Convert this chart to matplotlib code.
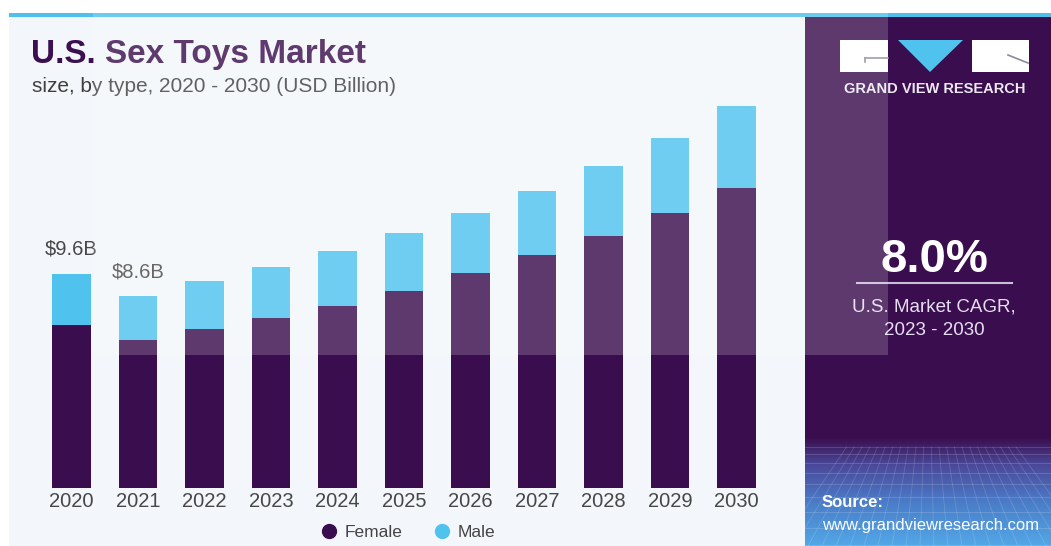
import numpy as np
import matplotlib
matplotlib.use("Agg")
import matplotlib.pyplot as plt
from matplotlib.patches import Rectangle, Polygon
from matplotlib.lines import Line2D

# market size by type, USD billion
years = ["2020", "2021", "2022", "2023", "2024", "2025",
         "2026", "2027", "2028", "2029", "2030"]
female = [7.32, 6.65, 7.13, 7.62, 8.16, 8.83, 9.64, 10.45, 11.32, 12.34, 13.47]
male = [2.28, 1.95, 2.16, 2.32, 2.48, 2.61, 2.72, 2.89, 3.13, 3.36, 3.68]
labelled = [0, 1]  # bars that carry a total label

cagr = "8.0%"
cagr_lines = ["U.S. Market CAGR,", "2023 - 2030"]

plt.rcParams["font.family"] = "Liberation Sans"

W, H = 1051, 546
fig = plt.figure(figsize=(W / 100, H / 100), dpi=100)
fig.patch.set_facecolor("white")

DARK = "#3a0e4e"
BLUE = "#4fc3ee"
GREY = "#474747"

# ---- background layer in pixel coordinates ----
bg = fig.add_axes([0, 0, 1, 1], zorder=-1)
bg.axis("off")

bg.add_patch(Rectangle((9, 17), 796, H - 17, color="#f3f7fb", lw=0))
bg.add_patch(Rectangle((9, 13), W - 9, 4, color="#4ec1ea", lw=0))
bg.add_patch(Rectangle((805, 17), W - 805, 420, color=DARK, lw=0))

# bottom of the side panel: purple fading into blue mesh
stops = np.array([[0x3a, 0x0e, 0x4e], [0x4a, 0x48, 0x98],
                  [0x4a, 0x7c, 0xc8], [0x52, 0xa8, 0xe6]]) / 255
pos = np.array([0.0, 0.25, 0.6, 1.0])
t = np.linspace(0, 1, 120)
grad = np.stack([np.interp(t, pos, stops[:, k]) for k in range(3)], axis=1)
bg.imshow(grad[:, None, :], extent=[805, W, H, 437], aspect="auto",
          interpolation="bilinear", zorder=1)
yy = 447
step = 7
while yy < H:
    bg.plot([805, W], [yy, yy], color="white", lw=0.6, alpha=0.18, zorder=2)
    yy += step
    step += 1.5
for x0 in np.arange(780, 1090, 14):
    bg.plot([928 + (x0 - 928) * 0.55, x0], [447, H], color="white",
            lw=0.6, alpha=0.16, zorder=2)
bg.set_xlim(0, W)
bg.set_ylim(H, 0)

# logo
bg.add_patch(Rectangle((840, 40), 48, 32, color="white", lw=0, zorder=3))
bg.plot([865, 888], [58, 58], color="#8a8a9a", lw=1.2, zorder=4)
bg.plot([865, 865], [58, 62], color="#8a8a9a", lw=1.2, zorder=4)
bg.add_patch(Polygon([(898, 40), (963, 40), (930, 72)], closed=True,
                     color="#4fc3ee", lw=0, zorder=3))
bg.add_patch(Rectangle((972, 40), 57, 32, color="white", lw=0, zorder=3))
bg.plot([1008, 1028], [55, 63], color="#8a8a9a", lw=1.2, zorder=4)
bg.text(934.5, 93, "GRAND VIEW RESEARCH", color="#ece8f2", fontsize=10.5,
        fontweight="bold", ha="center", va="baseline", zorder=4)

# CAGR callout
bg.text(934, 272, cagr, color="white", fontsize=34, fontweight="bold",
        ha="center", va="baseline", zorder=4)
bg.plot([857, 1012], [283, 283], color="#cbbcdb", lw=1.5, zorder=4)
for k, line in enumerate(cagr_lines):
    bg.text(934, 311 + 24 * k, line, color="#e6def0", fontsize=13.5,
            ha="center", va="baseline", zorder=4)

# source
bg.text(822, 507, "Source:", color="white", fontsize=12, fontweight="bold",
        va="baseline", zorder=4)
bg.text(822, 530, "www.grandviewresearch.com", color="white", fontsize=12,
        va="baseline", zorder=4)

# titles
bg.text(31, 63, "U.S. Sex Toys Market", color="#3b0f50", fontsize=24,
        fontweight="bold", va="baseline", zorder=4)
bg.text(32, 92, "size, by type, 2020 - 2030 (USD Billion)", color="#3f3f3f",
        fontsize=15, va="baseline", zorder=4)

# ---- stacked bars ----
px_per_unit = 22.27
x_left, x_right, y_base, y_top = 14, 794, 488, 100
ax = fig.add_axes([x_left / W, (H - y_base) / H,
                   (x_right - x_left) / W, (y_base - y_top) / H])
ax.patch.set_alpha(0)
x = np.arange(len(years))
ax.bar(x, female, width=0.577, color=DARK, lw=0)
ax.bar(x, male, bottom=female, width=0.577, color=BLUE, lw=0)
for i in labelled:
    total = female[i] + male[i]
    ax.annotate(f"${total:.1f}B", (x[i], total), xytext=(0, 11),
                textcoords="offset points", ha="center", va="bottom",
                fontsize=14.5, color=GREY)
ax.set_xlim(-(71.5 - x_left) / 66.5, 10 + (x_right - 736.5) / 66.5)
ax.set_ylim(0, (y_base - y_top) / px_per_unit)
ax.set_xticks(x)
ax.set_xticklabels(years, fontsize=14.5, color=GREY)
ax.set_yticks([])
ax.tick_params(axis="x", length=0, pad=3)
for s in ax.spines.values():
    s.set_visible(False)

handles = [Line2D([], [], ls="none", marker="o", ms=10, color=DARK),
           Line2D([], [], ls="none", marker="o", ms=10, color=BLUE)]
fig.legend(handles, ["Female", "Male"], loc="center", ncol=2,
           bbox_to_anchor=(408 / W, 1 - 532 / H), frameon=False,
           fontsize=12.5, handlelength=1.0, handletextpad=0.4,
           columnspacing=1.8, labelcolor="#444444")

# pale wash over the upper part of the graphic
top = fig.add_axes([0, 0, 1, 1], zorder=10)
top.set_xlim(0, W)
top.set_ylim(H, 0)
top.axis("off")
top.patch.set_alpha(0)
top.add_patch(Rectangle((93, 0), 888 - 93, 355, color="white", alpha=0.18,
                        lw=0))

fig.savefig("out.png", dpi=100)
